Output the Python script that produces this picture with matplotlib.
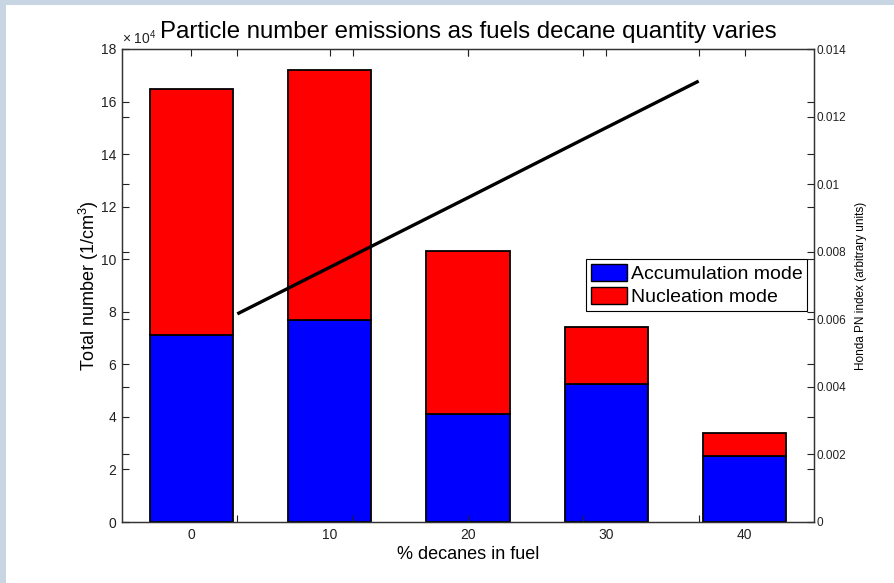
#!/usr/bin/env python3
"""
Particle number emissions vs decane fraction: stacked bars + PN index line
"""
import numpy as np
import matplotlib as mpl
import matplotlib.pyplot as plt
from matplotlib.patches import Rectangle

mpl.rcParams.update({
    "font.family": ["Liberation Sans", "DejaVu Sans"],
    "mathtext.fontset": "custom",
    "mathtext.rm": "Liberation Sans",
    "mathtext.it": "Liberation Sans:italic",
    "mathtext.bf": "Liberation Sans:bold",
})

# ---------------------------------------------------------------------------
# Data
# ---------------------------------------------------------------------------
decane_pct = ["0", "10", "20", "30", "40"]
accumulation = [71000, 76700, 41100, 52500, 25100]       # 1/cm^3
total_number = [164800, 171900, 103100, 74200, 33900]    # 1/cm^3
nucleation = [t - a for t, a in zip(total_number, accumulation)]
pn_index = [0.00616, 0.00788, 0.00960, 0.01133, 0.01305]  # arbitrary units

SCALE = 1e4
BAR_WIDTH = 0.6
FRAME_BLUE = "#c8d5e2"

# ---------------------------------------------------------------------------
# Figure
# ---------------------------------------------------------------------------
fig = plt.figure(figsize=(8.94, 5.83), dpi=100)
fig.patch.set_facecolor("white")
fig.patches.append(Rectangle((0, 0), 6 / 894, 1, transform=fig.transFigure,
                             facecolor=FRAME_BLUE, edgecolor="none"))
fig.patches.append(Rectangle((0, 1 - 5 / 583), 1, 5 / 583, transform=fig.transFigure,
                             facecolor=FRAME_BLUE, edgecolor="none"))

ax = fig.add_axes([122 / 894, 61 / 583, 692 / 894, 473 / 583])
x = np.arange(1, len(decane_pct) + 1)
acc = np.array(accumulation) / SCALE
nuc = np.array(nucleation) / SCALE

ax.bar(x, acc, BAR_WIDTH, color="#0000ff", edgecolor="black", linewidth=1.3,
       label="Accumulation mode")
ax.bar(x, nuc, BAR_WIDTH, bottom=acc, color="#ff0000", edgecolor="black",
       linewidth=1.3, label="Nucleation mode")

ax.set_xlim(0.5, 5.5)
ax.set_ylim(0, 18)
ax.set_xticks(x, labels=decane_pct)
ax.set_yticks(np.arange(0, 19, 2))
ax.set_axisbelow(True)
ax.tick_params(direction="in", length=5, width=0.8, top=True, right=True,
               labelsize=10, colors="#222222", pad=4)
ax.set_xlabel("% decanes in fuel", fontsize=13, labelpad=3)
ax.set_ylabel(r"Total number (1/cm$\mathregular{^3}$)", fontsize=13, labelpad=0)
ax.set_title("Particle number emissions as fuels decane quantity varies",
             fontsize=17.3, pad=8)
ax.text(0.0, 1.004, r"$\times$ 10$\mathregular{^4}$", transform=ax.transAxes,
        ha="left", va="bottom", fontsize=10, color="#222222")

leg = ax.legend(loc="upper left", bbox_to_anchor=(0.6705, 0.556), borderaxespad=0,
                fontsize=14, fancybox=False, framealpha=1, edgecolor="black",
                handlelength=1.85, handleheight=0.95, handletextpad=0.2,
                labelspacing=0.2, borderpad=0.25)
leg.get_frame().set_linewidth(0.8)
for h in leg.legend_handles:
    h.set_linewidth(1.0)

# PN index on its own axes, right-hand scale
ax2 = fig.add_axes(ax.get_position(), facecolor="none")
ax2.plot(x, pn_index, color="black", linewidth=2.4, solid_capstyle="butt")
ax2.set_xlim(0, 6)
ax2.set_ylim(0, 0.014)
ax2.set_xticks(x, labels=[])
ax2.set_yticks(np.arange(0, 0.0141, 0.002),
               labels=["0", "0.002", "0.004", "0.006", "0.008", "0.01", "0.012", "0.014"])
ax2.tick_params(direction="in", length=5, width=0.8, top=True, bottom=True,
                left=True, right=True, labelleft=False, labelright=True,
                labelsize=8.5, colors="#222222", pad=2)
ax2.yaxis.set_label_position("right")
ax2.set_ylabel("Honda PN index (arbitrary units)", fontsize=8.5, labelpad=6)

for a in (ax, ax2):
    for s in a.spines.values():
        s.set_color("#333333")
        s.set_linewidth(0.9)

fig.savefig("out.png", dpi=100)
